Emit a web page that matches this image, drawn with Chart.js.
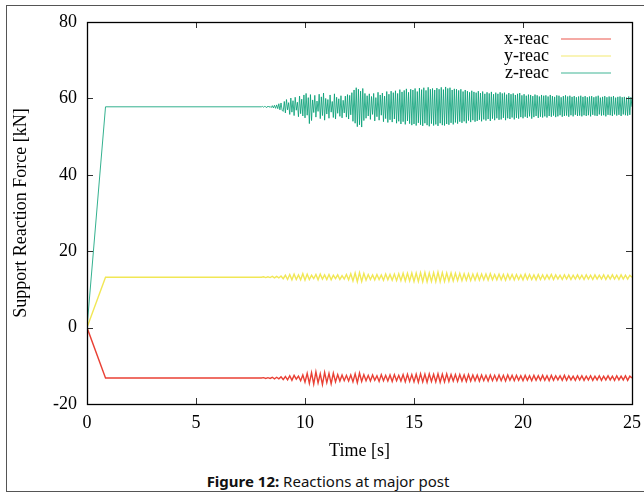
<!DOCTYPE html>
<html>
<head>
<meta charset="utf-8">
<script src="https://cdn.jsdelivr.net/npm/chart.js@4.4.1/dist/chart.umd.min.js"></script>
<style>
  body { margin: 0; background: #fff; width: 644px; height: 496px; overflow: hidden; position: relative; }
  #frame { position: absolute; left: 6px; top: 5px; width: 700px; height: 487px; border: 1px solid #555; box-sizing: border-box; }
  #myChart { position: absolute; left: 0; top: 0; }
  #caption { position: absolute; left: 0; top: 472px; width: 656px; text-align: center;
    font-family: "Noto Sans", sans-serif; font-size: 15px; line-height: 18px; color: #111; }
</style>
</head>
<body>
<div id="frame"></div>
<canvas id="myChart" width="644" height="470"></canvas>
<div id="caption"><b>Figure 12:</b> Reactions at major post</div>
<script>
// ramp at start of run
const rampTimes = [0, 0.85];
const rampX = [0, -13.2];
const rampY = [0, 13.2];
const rampZ = [0, 57.8];

// sampled response from t = 8.0 s
const oscStart = 8.0;
const xyStep = 0.1;   // x-reac, y-reac: one value per 0.1 s
const zStep = 0.05;   // z-reac: one value per 0.05 s

const xReac = [
  -13.2,-13.1,-13.3,-13.1,-13.3,-13.0,-13.4,-13.0,-13.4,-12.9,
  -13.6,-12.8,-13.7,-12.6,-13.8,-12.5,-13.5,-12.7,-13.9,-12.4,
  -14.3,-12.0,-14.6,-11.8,-14.8,-11.6,-14.5,-12.1,-14.9,-11.7,
  -14.4,-12.0,-14.7,-11.9,-14.2,-12.3,-14.0,-12.4,-13.9,-12.5,
  -14.0,-12.4,-14.2,-12.1,-14.4,-11.9,-14.1,-12.3,-13.9,-12.5,
  -14.0,-12.4,-13.8,-12.6,-14.1,-12.3,-13.9,-12.5,-14.0,-12.4,
  -14.1,-12.3,-13.9,-12.5,-14.0,-12.3,-14.2,-12.2,-14.1,-12.3,
  -14.2,-12.2,-14.3,-12.1,-14.2,-12.2,-14.3,-12.1,-14.1,-12.2,
  -14.2,-12.1,-14.3,-12.2,-14.2,-12.1,-14.1,-12.3,-14.0,-12.3,
  -14.1,-12.3,-14.0,-12.4,-14.1,-12.3,-14.0,-12.4,-13.9,-12.4,
  -14.0,-12.4,-13.9,-12.5,-14.0,-12.4,-13.9,-12.5,-13.9,-12.4,
  -13.9,-12.5,-14.0,-12.4,-13.8,-12.5,-13.9,-12.5,-13.8,-12.6,
  -13.9,-12.5,-13.8,-12.6,-13.9,-12.5,-13.8,-12.6,-13.8,-12.5,
  -13.8,-12.6,-13.9,-12.5,-13.8,-12.6,-13.7,-12.6,-13.8,-12.5,
  -13.8,-12.6,-13.7,-12.7,-13.8,-12.6,-13.7,-12.6,-13.8,-12.7,
  -13.7,-12.6,-13.8,-12.7,-13.7,-12.6,-13.8,-12.7,-13.7,-12.6,
  -13.7,-12.7,-13.8,-12.6,-13.7,-12.7,-13.7,-12.6,-13.8,-12.7,
  -13.2
];

const yReac = [
  13.2,13.3,13.1,13.3,13.1,13.4,13.0,13.4,13.0,13.5,
  12.8,13.7,12.6,13.9,12.5,14.0,12.6,13.8,12.5,14.1,
  12.4,14.0,12.6,13.7,12.8,13.9,12.5,14.0,12.7,13.8,
  12.6,13.9,12.5,13.7,12.8,13.8,12.6,13.6,12.7,13.9,
  12.5,14.1,12.2,14.3,12.0,14.4,12.1,14.2,12.4,13.9,
  12.6,13.8,12.5,13.9,12.6,13.8,12.4,14.0,12.5,13.9,
  12.4,14.0,12.3,14.1,12.3,14.2,12.2,14.2,12.2,14.3,
  12.1,14.3,12.1,14.4,12.0,14.4,12.0,14.3,12.1,14.4,
  12.0,14.5,12.0,14.4,12.1,14.3,12.2,14.3,12.2,14.2,
  12.3,14.2,12.3,14.1,12.4,14.1,12.3,14.0,12.4,14.1,
  12.4,14.0,12.5,14.0,12.4,14.1,12.5,13.9,12.5,14.0,
  12.5,13.9,12.4,14.0,12.6,13.9,12.5,13.9,12.6,13.8,
  12.5,14.0,12.6,13.9,12.6,13.8,12.5,13.9,12.6,13.8,
  12.6,13.8,12.7,13.9,12.6,13.8,12.7,13.7,12.6,13.8,
  12.7,13.8,12.6,13.7,12.7,13.8,12.7,13.7,12.6,13.8,
  12.7,13.7,12.6,13.8,12.7,13.7,12.7,13.8,12.6,13.7,
  12.7,13.8,12.7,13.7,12.6,13.8,12.7,13.7,12.7,13.7,
  13.2
];

const zReac = [
  57.8,57.9,57.7,57.9,57.8,57.6,58.0,57.7,57.9,57.6,58.1,57.5,58.2,57.4,58.3,57.3,58.6,57.0,58.8,56.9,
  56.6,59.2,56.2,59.7,57.0,58.9,55.8,60.1,56.4,59.4,55.5,60.3,56.9,59.0,55.2,60.6,56.0,59.8,55.4,60.9,
  54.9,61.3,55.6,60.2,53.4,61.0,54.2,59.6,56.3,60.8,55.1,59.3,56.6,61.1,54.7,60.4,55.5,61.4,54.3,60.0,
  55.9,59.7,54.8,60.9,56.4,59.2,55.0,61.2,54.6,60.3,56.1,59.9,55.3,60.7,54.9,59.5,56.2,60.6,55.1,61.0,
  54.6,60.8,55.7,61.5,54.0,62.2,53.5,62.8,52.6,62.4,53.1,61.9,52.5,62.6,54.2,61.3,54.8,60.7,55.4,61.2,
  54.5,60.5,55.8,61.3,54.1,60.2,55.2,61.6,54.3,60.9,55.6,61.4,53.9,60.6,54.7,61.8,53.7,61.1,54.4,61.9,
  53.8,61.5,54.6,62.0,53.5,61.3,54.0,62.3,53.3,61.7,53.9,62.1,53.2,62.5,54.1,61.6,53.4,62.4,53.0,62.2,
  53.3,62.6,52.9,61.8,53.6,62.7,53.1,62.3,52.8,62.8,53.5,62.1,53.0,62.9,52.7,62.4,53.4,62.6,52.9,62.2,
  53.2,62.7,52.8,62.4,53.5,62.9,53.0,62.3,52.9,63.0,53.3,62.6,53.1,62.8,53.6,62.2,53.2,62.5,53.7,62.4,
  53.4,62.1,53.9,62.4,53.6,61.8,54.0,62.2,53.5,61.9,54.2,61.6,53.8,62.0,54.3,61.7,53.9,61.5,54.1,61.9,
  54.4,61.4,54.0,61.8,54.5,61.2,54.2,61.6,54.6,61.3,54.1,61.7,54.7,61.1,54.3,61.5,54.8,61.2,54.4,61.6,
  54.5,61.3,54.9,61.5,54.3,61.0,54.8,61.4,54.6,61.1,55.0,61.3,54.5,60.9,54.9,61.2,54.7,61.4,55.1,60.8,
  54.8,61.1,55.2,60.7,54.9,61.0,55.3,60.9,54.7,60.6,55.1,61.0,55.4,60.8,54.9,60.5,55.2,60.9,55.0,60.7,
  55.3,60.8,55.0,60.5,55.4,60.9,55.2,60.6,55.5,60.4,55.1,60.8,55.3,60.7,55.6,60.3,55.2,60.6,55.4,60.8,
  55.5,60.5,55.2,60.7,55.6,60.4,55.3,60.6,55.7,60.3,55.4,60.5,55.5,60.7,55.3,60.4,55.6,60.6,55.4,60.3,
  55.6,60.5,55.3,60.6,55.7,60.3,55.5,60.5,55.4,60.7,55.8,60.2,55.5,60.4,55.6,60.6,55.3,60.3,55.7,60.5,
  55.6,60.4,55.4,60.6,55.8,60.2,55.5,60.4,55.7,60.5,55.4,60.3,55.8,60.4,55.6,60.2,55.5,60.5,55.7,60.3,
  57.8
];

const xTicks = [0, 5, 10, 15, 20, 25];
const yTicks = [-20, 0, 20, 40, 60, 80];

function buildSeries(ramp, osc, step) {
  var pts = [];
  for (var i = 0; i < rampTimes.length; i++) pts.push({ x: rampTimes[i], y: ramp[i] });
  for (var j = 0; j < osc.length; j++) pts.push({ x: +(oscStart + j * step).toFixed(2), y: osc[j] });
  return pts;
}

const serif = "'Liberation Serif', 'Times New Roman', serif";

// gnuplot style frame, inward mirrored ticks and key
const framePlugin = {
  id: "frame",
  afterDatasetsDraw(chart) {
    const c = chart.ctx, a = chart.chartArea;
    const xs = chart.scales.x, ys = chart.scales.y;
    c.save();
    c.strokeStyle = "#333";
    c.lineWidth = 1;
    c.beginPath();
    xTicks.forEach(function (t) {
      var px = Math.round(xs.getPixelForValue(t)) + 0.5;
      c.moveTo(px, a.bottom); c.lineTo(px, a.bottom - 6);
      c.moveTo(px, a.top); c.lineTo(px, a.top + 6);
    });
    yTicks.forEach(function (t) {
      var py = Math.round(ys.getPixelForValue(t)) + 0.5;
      c.moveTo(a.left, py); c.lineTo(a.left + 6, py);
      c.moveTo(a.right, py); c.lineTo(a.right - 6, py);
    });
    c.stroke();
    c.lineWidth = 1.3;
    c.strokeStyle = "#000";
    c.strokeRect(Math.round(a.left) + 0.5, Math.round(a.top) + 0.5, Math.round(a.right - a.left), Math.round(a.bottom - a.top));

    // key
    c.font = "18px " + serif;
    c.textAlign = "right";
    c.textBaseline = "middle";
    chart.data.datasets.forEach(function (ds, i) {
      var y = a.top + 17 + i * 17;
      c.fillStyle = "#000";
      c.fillText(ds.label, a.right - 83, y);
      c.strokeStyle = ds.keyColor;
      c.lineWidth = 1.5;
      c.beginPath();
      c.moveTo(a.right - 71, Math.round(y));
      c.lineTo(a.right - 21, Math.round(y));
      c.stroke();
    });
    c.restore();
  }
};

const ctx = document.getElementById("myChart").getContext("2d");

const graphData = {
  type: "line",
  data: {
    datasets: [
      {
        label: "x-reac",
        data: buildSeries(rampX, xReac, xyStep),
        borderColor: "rgba(229, 30, 16, 0.85)",
        keyColor: "rgba(229, 30, 16, 0.5)",
        borderWidth: 1.4,
        pointRadius: 0,
        tension: 0,
      },
      {
        label: "y-reac",
        data: buildSeries(rampY, yReac, xyStep),
        borderColor: "rgba(240, 228, 66, 0.9)",
        keyColor: "rgba(240, 228, 66, 0.5)",
        borderWidth: 1.4,
        pointRadius: 0,
        tension: 0,
      },
      {
        label: "z-reac",
        data: buildSeries(rampZ, zReac, zStep),
        borderColor: "rgba(0, 158, 115, 0.8)",
        keyColor: "rgba(0, 158, 115, 0.5)",
        borderWidth: 1,
        pointRadius: 0,
        tension: 0,
      },
    ],
  },
  options: {
    responsive: false,
    animation: false,
    layout: { padding: { top: 22, right: 12, left: 0, bottom: 0 } },
    plugins: { legend: { display: false }, tooltip: { enabled: false } },
    scales: {
      x: {
        type: "linear",
        min: 0,
        max: 25,
        afterBuildTicks: function (s) { s.ticks = xTicks.map(function (v) { return { value: v }; }); },
        afterFit: function (s) { s.height = 66; s.paddingLeft = 0; s.paddingRight = 0; },
        grid: { display: false, drawTicks: false },
        border: { display: false },
        ticks: { padding: 8, color: "#000", font: { family: serif, size: 18 }, maxRotation: 0 },
        title: { display: true, text: "Time [s]", color: "#000", font: { family: serif, size: 18 }, padding: { bottom: 8 } },
      },
      y: {
        min: -20,
        max: 80,
        afterBuildTicks: function (s) { s.ticks = yTicks.map(function (v) { return { value: v }; }); },
        afterFit: function (s) { s.width = 87; },
        grid: { display: false, drawTicks: false },
        border: { display: false },
        ticks: { padding: 10, color: "#000", font: { family: serif, size: 18 } },
        title: { display: true, text: "Support Reaction Force [kN]", color: "#000", font: { family: serif, size: 18 }, padding: { top: 10 } },
      },
    },
  },
  plugins: [framePlugin],
};
const myChart = new Chart(ctx, graphData);
</script>
</body>
</html>
